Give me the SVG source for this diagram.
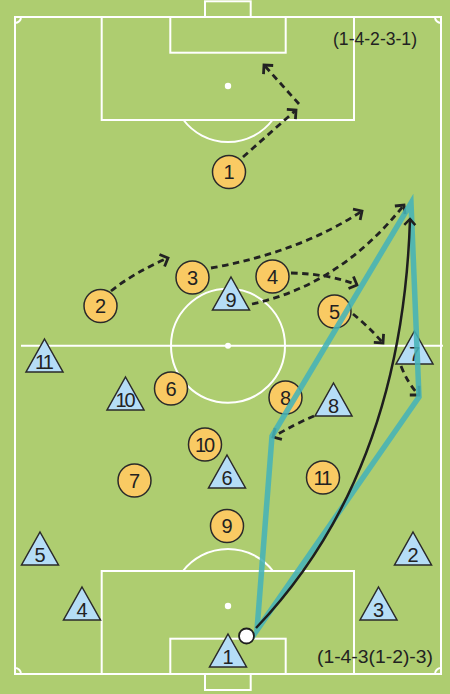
<svg xmlns="http://www.w3.org/2000/svg" width="450" height="694" viewBox="0 0 450 694">
<style>
.ln{fill:none;stroke:#fff;stroke-width:2}
.spot{fill:#fff}
.pc{fill:#f9ca63;stroke:#2a2a2a;stroke-width:1.5}
.pt{fill:#b5ddf6;stroke:#2a2a2a;stroke-width:1.5;stroke-linejoin:miter}
.num{font-family:"Liberation Sans",Arial,sans-serif;font-size:20px;fill:#222;text-anchor:middle}
.two{letter-spacing:-2px}
.dash{fill:none;stroke:#222;stroke-width:2.8;stroke-dasharray:6.5 4.5;marker-end:url(#head)}
.teal{fill:none;stroke:#45b3b7;stroke-opacity:0.88;stroke-width:5.5}
.pass{fill:none;stroke:#1e1e1e;stroke-width:2.5;marker-end:url(#head2)}
.form{font-family:"Liberation Sans",Arial,sans-serif;font-size:18px;fill:#222}
</style>
<defs>
<marker id="head" markerUnits="userSpaceOnUse" markerWidth="20" markerHeight="20" viewBox="-10 -10 20 20" refX="0" refY="0" orient="auto">
<path d="M -6.5 -6.5 L 0 0 L -6.5 6.5" fill="none" stroke="#222" stroke-width="2.8"/>
</marker>
<marker id="head2" markerUnits="userSpaceOnUse" markerWidth="20" markerHeight="20" viewBox="-10 -10 20 20" refX="0" refY="0" orient="auto">
<path d="M -6 -5.5 L 0 0 L -6 5.5" fill="none" stroke="#1e1e1e" stroke-width="2.5"/>
</marker>
</defs>
<rect x="0" y="0" width="450" height="694" fill="#aecd70"/>
<g id="pitch">
<rect class="ln" x="15" y="17" width="426" height="657"/>
<line class="ln" x1="21" y1="345.7" x2="443" y2="345.7"/>
<circle class="ln" cx="228" cy="345.7" r="57"/>
<circle class="spot" cx="228" cy="345.7" r="3"/>
<rect class="ln" x="101.7" y="17" width="252.3" height="103"/>
<rect class="ln" x="170.3" y="17" width="115.4" height="35.7"/>
<rect class="ln" x="205" y="1.3" width="45.7" height="15.7"/>
<circle class="spot" cx="228" cy="86" r="3.2"/>
<path class="ln" d="M 183.5 120 A 56 56 0 0 0 272.5 120"/>
<rect class="ln" x="101.7" y="571" width="252.3" height="103"/>
<rect class="ln" x="170.3" y="638.7" width="115.4" height="35.3"/>
<rect class="ln" x="205" y="674" width="45.7" height="16"/>
<circle class="spot" cx="228" cy="606" r="3.2"/>
<path class="ln" d="M 183 571 A 57 57 0 0 1 273 571"/>
<path class="ln" d="M 15 23 A 6 6 0 0 0 21 17"/>
<path class="ln" d="M 435 17 A 6 6 0 0 0 441 23"/>
<path class="ln" d="M 15 668 A 6 6 0 0 1 21 674"/>
<path class="ln" d="M 435 674 A 6 6 0 0 1 441 668"/>
</g>
<g id="connectors-runs">
<path class="dash" d="M 243 157 L 296 110"/>
<path class="dash" d="M 299 104 L 264 65"/>
<path class="dash" d="M 111 291 Q 135 272 168 258"/>
<path class="dash" d="M 211 268 Q 300 252 362 211"/>
<path class="dash" d="M 252 304 Q 340 285 404 205"/>
<path class="dash" d="M 291 273 Q 330 274 357 285"/>
<path class="dash" d="M 353 314 Q 368 326 383 343"/>
<path class="dash" d="M 401 366 Q 408 384 419 395"/>
<path class="dash" d="M 314 416 Q 295 424 273 437"/>
</g>
<g id="o1"><circle class="pc" cx="229" cy="172" r="16.5"/><text class="num" x="229" y="179">1</text></g>
<g id="o2"><circle class="pc" cx="100.5" cy="306" r="16.5"/><text class="num" x="100.5" y="313">2</text></g>
<g id="o3"><circle class="pc" cx="192.5" cy="277.5" r="16.5"/><text class="num" x="192.5" y="284.5">3</text></g>
<g id="o4"><circle class="pc" cx="272.5" cy="276.5" r="16.5"/><text class="num" x="272.5" y="283.5">4</text></g>
<g id="o5"><circle class="pc" cx="334.5" cy="311.5" r="16.5"/><text class="num" x="334.5" y="318.5">5</text></g>
<g id="o6"><circle class="pc" cx="171" cy="388.5" r="16.5"/><text class="num" x="171" y="395.5">6</text></g>
<g id="o8"><circle class="pc" cx="285.5" cy="397.5" r="16.5"/><text class="num" x="285.5" y="404.5">8</text></g>
<g id="o10"><circle class="pc" cx="205" cy="444.5" r="16.5"/><text class="num two" x="204" y="451.5">10</text></g>
<g id="o7"><circle class="pc" cx="134.5" cy="480.5" r="16.5"/><text class="num" x="134.5" y="487.5">7</text></g>
<g id="o11"><circle class="pc" cx="323" cy="477.5" r="16.5"/><text class="num two" x="322" y="484.5">11</text></g>
<g id="o9"><circle class="pc" cx="227" cy="526" r="16.5"/><text class="num" x="227" y="533">9</text></g>
<g id="b9"><polygon class="pt" points="231,277 249.5,310 212.5,310"/><text class="num" x="231" y="306.5">9</text></g>
<g id="b11"><polygon class="pt" points="44.5,339 63,372 26,372"/><text class="num two" x="43.5" y="368.5">11</text></g>
<g id="b10"><polygon class="pt" points="125.5,377 144,410 107,410"/><text class="num two" x="124.5" y="406.5">10</text></g>
<g id="b8"><polygon class="pt" points="333.5,383 352,416 315,416"/><text class="num" x="333.5" y="412.5">8</text></g>
<g id="b7"><polygon class="pt" points="414.5,331 433,364 396,364"/><text class="num" x="414.5" y="360.5">7</text></g>
<g id="b6"><polygon class="pt" points="227,455 245.5,488 208.5,488"/><text class="num" x="227" y="484.5">6</text></g>
<g id="b5"><polygon class="pt" points="40,532 58.5,565 21.5,565"/><text class="num" x="40" y="561.5">5</text></g>
<g id="b4"><polygon class="pt" points="82,587 100.5,620 63.5,620"/><text class="num" x="82" y="616.5">4</text></g>
<g id="b2"><polygon class="pt" points="413,532 431.5,565 394.5,565"/><text class="num" x="413" y="561.5">2</text></g>
<g id="b3"><polygon class="pt" points="378.5,587 397,620 360,620"/><text class="num" x="378.5" y="616.5">3</text></g>
<g id="b1"><polygon class="pt" points="228,634 246.5,667 209.5,667"/><text class="num" x="228" y="663.5">1</text></g>
<g id="connectors-pass">
<polygon class="teal" points="257,630 272,436 411,203 419,397"/>
<path class="pass" d="M 256 628 Q 402 475 410 219"/>
</g>
<g id="ball"><circle cx="246.5" cy="636" r="7.5" fill="#fff" stroke="#1e1e1e" stroke-width="1.8"/></g>
<g id="labels">
<text class="form" x="333" y="45" textLength="84" lengthAdjust="spacingAndGlyphs">(1-4-2-3-1)</text>
<text class="form" x="317" y="662.5" textLength="116" lengthAdjust="spacingAndGlyphs">(1-4-3(1-2)-3)</text>
</g>
</svg>
